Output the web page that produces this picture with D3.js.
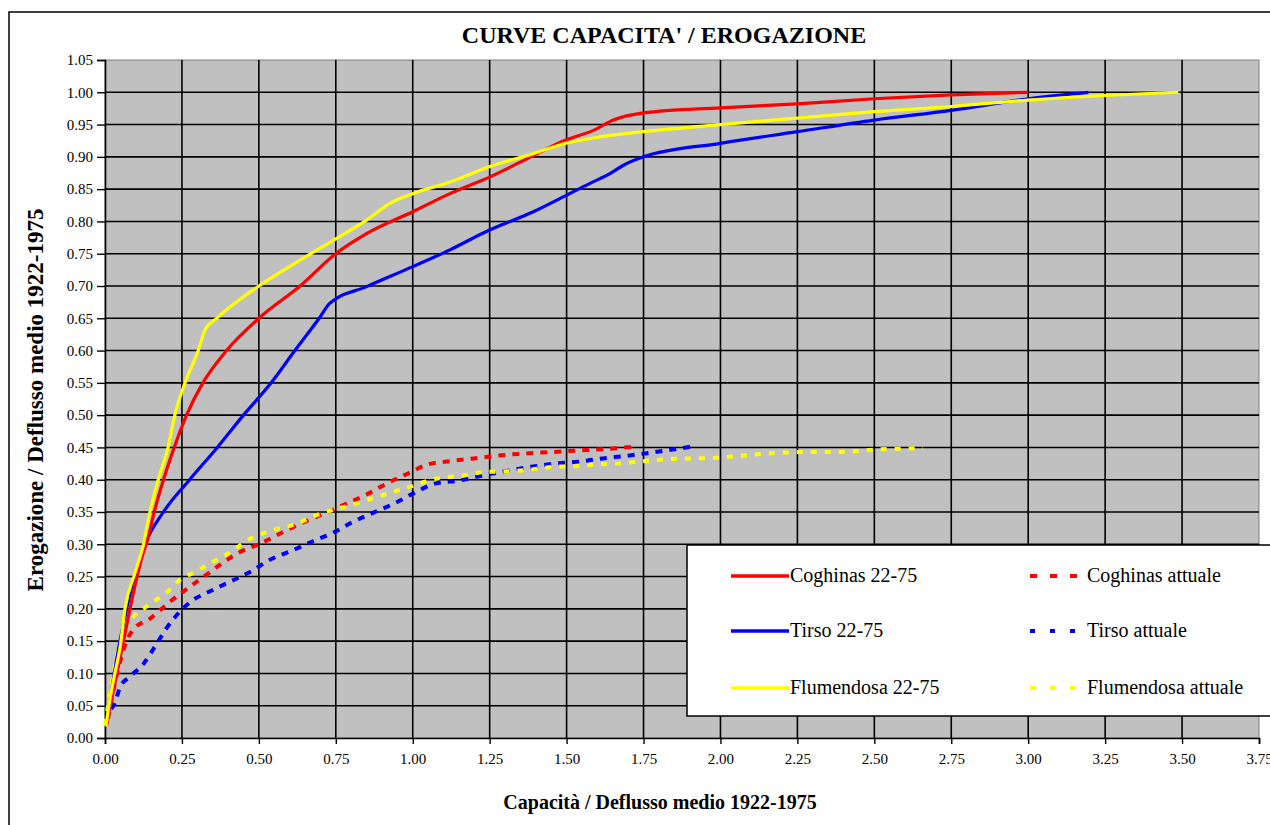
<!DOCTYPE html>
<html>
<head>
<meta charset="utf-8">
<script src="https://cdn.jsdelivr.net/npm/d3@7"></script>
<style>
  body { margin: 0; background: #fff; }
  svg { display: block; }
  text { font-family: "Liberation Serif", "Times New Roman", serif; }
</style>
</head>
<body>
<svg id="chart" width="1270" height="825"></svg>
<script>
// ---- data ----
const xTicks = [0,0.25,0.5,0.75,1,1.25,1.5,1.75,2,2.25,2.5,2.75,3,3.25,3.5,3.75];
const yTicks = [0,0.05,0.1,0.15,0.2,0.25,0.3,0.35,0.4,0.45,0.5,0.55,0.6,0.65,0.7,0.75,0.8,0.85,0.9,0.95,1.0,1.05];

const coghinasX = [0.005,0.03,0.06,0.09,0.12,0.14,0.16,0.19,0.225,0.265,0.318,0.395,0.5,0.634,0.75,0.85,1.0,1.121,1.251,1.392,1.497,1.587,1.652,1.75,2.0,2.25,2.5,2.75,3.0];
const coghinasY = [0.02,0.08,0.15,0.22,0.28,0.31,0.35,0.40,0.45,0.50,0.55,0.60,0.65,0.70,0.75,0.781,0.815,0.843,0.869,0.902,0.926,0.941,0.957,0.968,0.976,0.982,0.99,0.996,1.0];

const tirsoX = [0.005,0.03,0.07,0.13,0.19,0.275,0.365,0.45,0.54,0.617,0.699,0.73,0.85,1.0,1.121,1.251,1.392,1.497,1.576,1.641,1.685,1.75,2.0,2.25,2.5,2.75,3.0,3.196];
const tirsoY = [0.02,0.10,0.20,0.30,0.35,0.40,0.45,0.50,0.55,0.60,0.652,0.673,0.699,0.73,0.756,0.787,0.815,0.84,0.859,0.874,0.887,0.9,0.921,0.939,0.957,0.972,0.99,1.0];

const flumendosaX = [0.003,0.016,0.032,0.049,0.065,0.097,0.125,0.146,0.173,0.205,0.227,0.26,0.303,0.325,0.363,0.5,0.634,0.75,0.85,0.926,1.0,1.121,1.251,1.392,1.497,1.609,1.75,2.0,2.25,2.5,2.75,3.0,3.245,3.488];
const flumendosaY = [0.018,0.06,0.10,0.14,0.20,0.255,0.30,0.35,0.40,0.45,0.50,0.55,0.60,0.632,0.65,0.70,0.74,0.773,0.802,0.828,0.843,0.861,0.885,0.905,0.921,0.931,0.939,0.95,0.96,0.97,0.978,0.988,0.995,1.0];

const coghinasAttX = [0.01,0.03,0.05,0.07,0.1,0.141,0.179,0.211,0.252,0.298,0.336,0.379,0.439,0.504,0.579,0.65,0.709,0.785,0.85,0.915,0.986,1.051,1.126,1.199,1.271,1.344,1.418,1.494,1.566,1.642,1.715];
const coghinasAttY = [0.03,0.08,0.12,0.15,0.172,0.183,0.198,0.211,0.226,0.242,0.255,0.27,0.288,0.301,0.319,0.335,0.347,0.363,0.377,0.394,0.41,0.424,0.429,0.433,0.437,0.44,0.442,0.444,0.446,0.448,0.451];

const tirsoAttX = [0.02,0.032,0.049,0.081,0.125,0.168,0.2,0.252,0.287,0.336,0.406,0.471,0.536,0.607,0.672,0.742,0.807,0.872,0.939,1.007,1.072,1.155,1.23,1.30,1.385,1.462,1.538,1.617,1.694,1.776,1.848,1.915];
const tirsoAttY = [0.045,0.054,0.079,0.095,0.115,0.146,0.17,0.20,0.214,0.226,0.242,0.257,0.276,0.29,0.304,0.318,0.335,0.349,0.363,0.38,0.394,0.399,0.407,0.413,0.42,0.425,0.428,0.433,0.437,0.442,0.447,0.452];

const flumendosaAttX = [0.0,0.02,0.04,0.065,0.092,0.125,0.157,0.19,0.244,0.292,0.352,0.417,0.455,0.525,0.612,0.704,0.801,0.894,0.991,1.078,1.158,1.236,1.311,1.387,1.462,1.532,1.613,1.688,1.761,1.836,1.909,1.985,2.066,2.138,2.21,2.286,2.362,2.437,2.509,2.586,2.658];
const flumendosaAttY = [0.02,0.08,0.13,0.17,0.188,0.20,0.211,0.221,0.245,0.257,0.273,0.291,0.304,0.319,0.33,0.348,0.361,0.375,0.389,0.402,0.406,0.412,0.413,0.416,0.42,0.421,0.424,0.426,0.429,0.432,0.433,0.434,0.437,0.44,0.442,0.443,0.443,0.444,0.447,0.448,0.449];

const seriesNames = ["Coghinas 22-75","Tirso 22-75","Flumendosa 22-75","Coghinas attuale","Tirso attuale","Flumendosa attuale"];

// ---- build ----
const zip = (xs, ys) => xs.map((x, i) => [x, ys[i]]);
const series = [
  {name: seriesNames[0], pts: zip(coghinasX, coghinasY), color: "#FF0000", dash: null},
  {name: seriesNames[1], pts: zip(tirsoX, tirsoY), color: "#0000FF", dash: null},
  {name: seriesNames[2], pts: zip(flumendosaX, flumendosaY), color: "#FFFF00", dash: null},
  {name: seriesNames[3], pts: zip(coghinasAttX, coghinasAttY), color: "#FF0000", dash: "7,7", legDash: "7,13"},
  {name: seriesNames[4], pts: zip(tirsoAttX, tirsoAttY), color: "#0000FF", dash: "7,7", legDash: "5,15"},
  {name: seriesNames[5], pts: zip(flumendosaAttX, flumendosaAttY), color: "#FFFF00", dash: "6,8", legDash: "5,15"}
];

const svg = d3.select("#chart");
const L = 105, R = 1259, T = 60, B = 738;
const x = d3.scaleLinear().domain([0, 3.75]).range([L, R]);
const y = d3.scaleLinear().domain([0, 1.05]).range([B, T]);

// outer frame
svg.append("rect").attr("x", 9).attr("y", 12).attr("width", 1400).attr("height", 1000)
  .attr("fill", "#fff").attr("stroke", "#000").attr("stroke-width", 1.5);

// plot background
svg.append("rect").attr("x", L).attr("y", T).attr("width", R - L).attr("height", B - T)
  .attr("fill", "#C0C0C0").attr("stroke", "#808080").attr("stroke-width", 1);

// grid
const grid = svg.append("g");
grid.selectAll("line.v").data(xTicks.filter(d => d > 0 && d < 3.75)).join("line")
  .attr("x1", d => x(d)).attr("x2", d => x(d)).attr("y1", T).attr("y2", B)
  .attr("stroke", "#000").attr("stroke-width", 1.6);
grid.selectAll("line.h").data(yTicks.filter(d => d > 0 && d < 1.05)).join("line")
  .attr("x1", L).attr("x2", R).attr("y1", d => y(d)).attr("y2", d => y(d))
  .attr("stroke", "#000").attr("stroke-width", 1.6);

// axes
const fmt = d3.format(".2f");
const yAxis = svg.append("g").attr("transform", `translate(${L},0)`)
  .call(d3.axisLeft(y).tickValues(yTicks).tickFormat(fmt).tickSize(8).tickPadding(4));
const xAxis = svg.append("g").attr("transform", `translate(0,${B})`)
  .call(d3.axisBottom(x).tickValues(xTicks).tickFormat(fmt).tickSize(6).tickPadding(9));
[yAxis, xAxis].forEach(a => {
  a.selectAll("path.domain").attr("stroke", "#000").attr("stroke-width", 1.6);
  a.selectAll(".tick line").attr("stroke", "#000").attr("stroke-width", 1.4);
  a.selectAll(".tick text").attr("font-family", "Liberation Serif, serif").attr("font-size", 15).attr("fill", "#000");
});

// lines
const line = d3.line().x(d => x(d[0])).y(d => y(d[1])).curve(d3.curveMonotoneX);
const draw = [series[3], series[4], series[5], series[1], series[0], series[2]];
svg.append("g").selectAll("path").data(draw).join("path")
  .attr("d", d => line(d.pts))
  .attr("fill", "none")
  .attr("stroke", d => d.color)
  .attr("stroke-width", d => d.dash ? 4 : 3.2)
  .attr("stroke-dasharray", d => d.dash)
  .attr("stroke-linejoin", "round");

// title
svg.append("text").attr("x", 664).attr("y", 43).attr("text-anchor", "middle")
  .attr("font-weight", "bold").attr("font-size", 24).text("CURVE CAPACITA' / EROGAZIONE");
// axis titles
svg.append("text").attr("x", 660).attr("y", 809).attr("text-anchor", "middle")
  .attr("font-weight", "bold").attr("font-size", 20).text("Capacità / Deflusso medio 1922-1975");
svg.append("text").attr("transform", "translate(38,400) rotate(-90)").attr("text-anchor", "middle")
  .attr("dominant-baseline", "middle")
  .attr("font-weight", "bold").attr("font-size", 23).text("Erogazione / Deflusso medio 1922-1975");

// legend
const lg = svg.append("g");
lg.append("rect").attr("x", 687).attr("y", 545).attr("width", 600).attr("height", 171)
  .attr("fill", "#fff").attr("stroke", "#000").attr("stroke-width", 1.5);
const rowsY = [576, 631, 688];
const cols = [{x0: 731, x1: 789}, {x0: 1030, x1: 1086}];
series.forEach((s, i) => {
  const c = cols[Math.floor(i / 3)], ry = rowsY[i % 3];
  lg.append("line").attr("x1", c.x0).attr("x2", c.x1).attr("y1", ry).attr("y2", ry)
    .attr("stroke", s.color).attr("stroke-width", s.dash ? 4 : 3.5)
    .attr("stroke-dasharray", s.legDash || null);
  lg.append("text").attr("x", c.x1 + 1).attr("y", ry + 6).attr("font-size", 20).text(s.name);
});
</script>
</body>
</html>
